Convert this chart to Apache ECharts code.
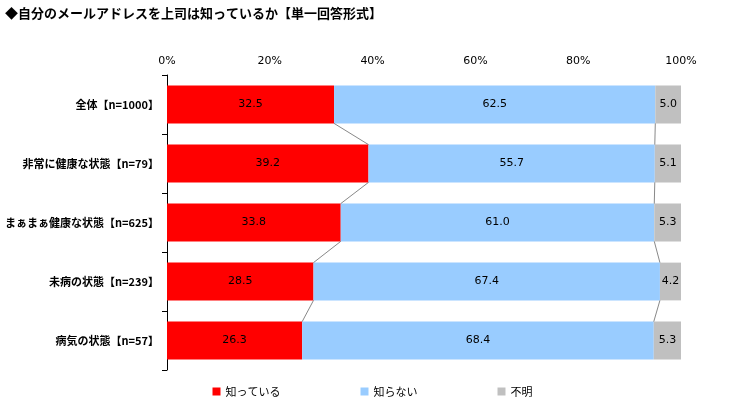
<!DOCTYPE html>
<html><head><meta charset="utf-8">
<script src="https://cdn.jsdelivr.net/npm/echarts@6/dist/echarts.min.js"></script>
<style>html,body{margin:0;padding:0;background:#fff}#c{width:745px;height:408px}</style>
</head><body><div id="c"></div>
<script>
const categories = ['全体【n=1000】','非常に健康な状態【n=79】','まぁまぁ健康な状態【n=625】','未病の状態【n=239】','病気の状態【n=57】'];
const knows = [32.5, 39.2, 33.8, 28.5, 26.3];
const notKnow = [62.5, 55.7, 61.0, 67.4, 68.4];
const unknown = [5.0, 5.1, 5.3, 4.2, 5.3];
const xTicks = [0, 20, 40, 60, 80, 100];

const cum1 = knows;
const cum2 = knows.map((v, i) => v + notKnow[i]);
const connData = [];
for (let i = 0; i < categories.length - 1; i++) {
  connData.push([i, cum1[i], cum1[i + 1]]);
  connData.push([i, cum2[i], cum2[i + 1]]);
}
const barFrac = 0.64;
const chart = echarts.init(document.getElementById('c'));
const lbl = {show: true, position: 'inside', color: '#000', fontSize: 11, fontFamily: 'DejaVu Sans', formatter: p => p.value.toFixed(1)};
chart.setOption({
  animation: false,
  title: {text: '◆自分のメールアドレスを上司は知っているか【単一回答形式】', left: 0, top: 2,
    textStyle: {fontSize: 13, fontWeight: 'bold', color: '#000', fontFamily: 'Noto Sans CJK JP'}},
  legend: {bottom: 6, left: 'center', itemGap: 80, itemWidth: 8, itemHeight: 8, icon: 'rect',
    textStyle: {fontSize: 11, fontFamily: 'Noto Sans CJK JP', color: '#000'},
    data: ['知っている', '知らない', '不明']},
  grid: {left: 167, right: 64, top: 75, bottom: 38},
  xAxis: {type: 'value', position: 'top', min: 0, max: 100, interval: 20,
    axisLabel: {formatter: v => xTicks.includes(v) ? v + '%' : '', color: '#000', fontSize: 11, fontFamily: 'DejaVu Sans'},
    axisLine: {show: false}, axisTick: {show: false}, splitLine: {show: false}},
  yAxis: {type: 'category', inverse: true, data: categories,
    axisLine: {show: true, lineStyle: {color: '#000'}},
    axisTick: {show: true, length: 5, lineStyle: {color: '#000'}},
    axisLabel: {color: '#000', fontSize: 11, fontWeight: 'bold', fontFamily: 'Noto Sans CJK JP', margin: 8}},
  series: [
    {name: '知っている', type: 'bar', stack: 's', data: knows, barWidth: '64%', itemStyle: {color: '#ff0000'}, label: lbl},
    {name: '知らない', type: 'bar', stack: 's', data: notKnow, barWidth: '64%', itemStyle: {color: '#99ccff'}, label: lbl},
    {name: '不明', type: 'bar', stack: 's', data: unknown, barWidth: '64%', itemStyle: {color: '#c0c0c0'}, label: lbl},
    {type: 'custom', silent: true, z: 5, data: connData,
      renderItem: (params, api) => {
        const i = api.value(0);
        const h = api.size([0, 1])[1] * barFrac / 2;
        const a = api.coord([api.value(1), i]);
        const b = api.coord([api.value(2), i + 1]);
        return {type: 'line', shape: {x1: a[0], y1: a[1] + h, x2: b[0], y2: b[1] - h},
          style: {stroke: '#555', lineWidth: 0.7}};
      }}
  ]
});
</script></body></html>
